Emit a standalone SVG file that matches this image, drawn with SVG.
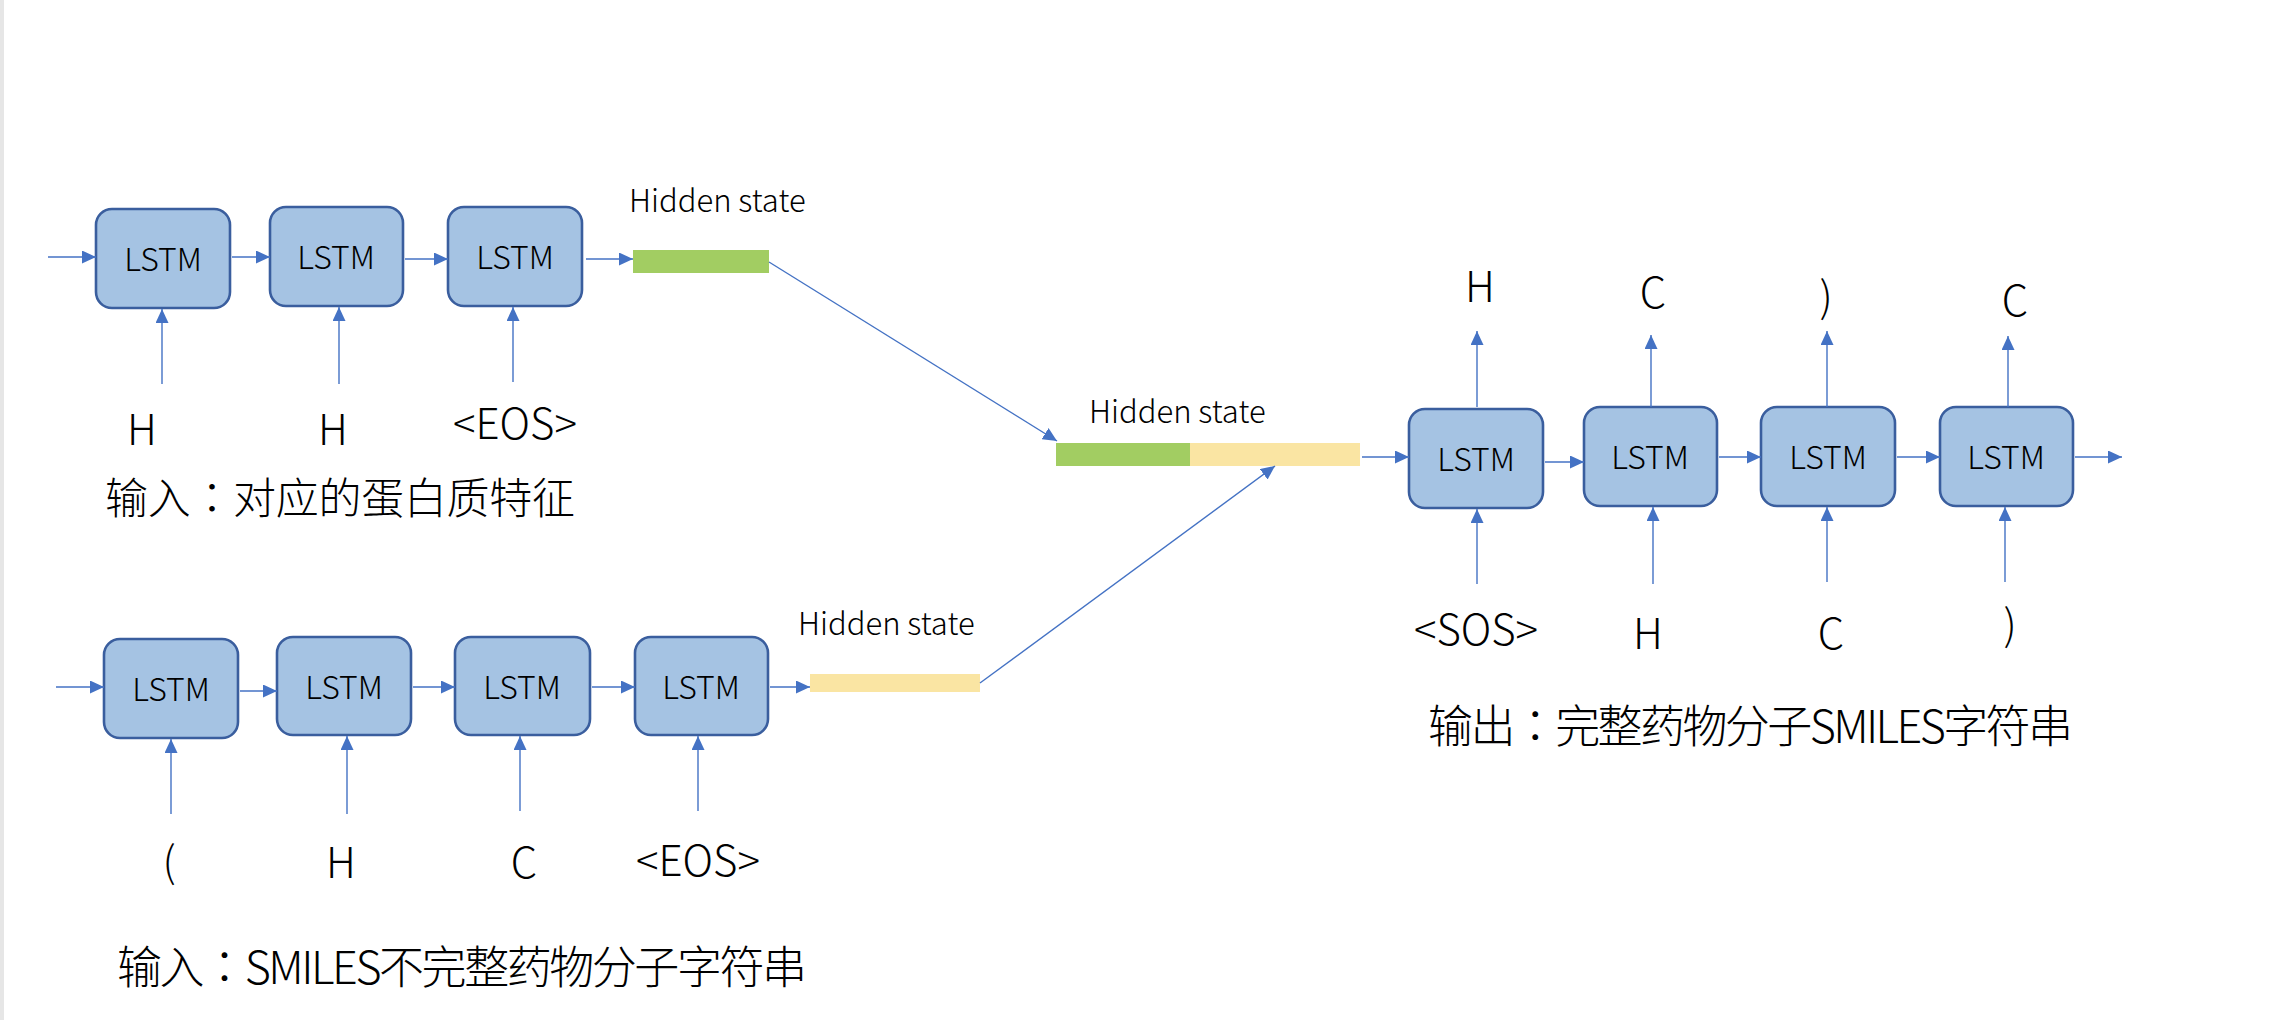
<svg xmlns="http://www.w3.org/2000/svg" width="2286" height="1020" viewBox="0 0 2286 1020">
<defs>
<marker id="ah" markerUnits="userSpaceOnUse" markerWidth="15" markerHeight="13" refX="14" refY="6.5" orient="auto" viewBox="0 0 15 13">
<path d="M0,0 L14,6.5 L0,13 z" fill="#4472c4"/>
</marker>
<style>
.box{fill:#a5c3e3;stroke:#3a5e9e;stroke-width:2.6}
.lbl{font-family:"Noto Sans CJK SC","Liberation Sans",sans-serif;font-weight:300;fill:#000;text-anchor:middle}
.lstm{font-size:32px}
.tok{font-size:42px}
.hs{font-family:"Noto Sans CJK SC","Liberation Sans",sans-serif;font-weight:300;font-size:31px;fill:#000}
.cap{font-family:"Noto Sans CJK SC","Liberation Sans",sans-serif;font-weight:300;fill:#000}
.colon{font-family:"Noto Sans CJK TC","Noto Sans CJK SC",sans-serif}
.ln{stroke:#4472c4;stroke-width:1.4;fill:none;marker-end:url(#ah)}
</style>
</defs>
<rect x="0" y="0" width="2286" height="1020" fill="#ffffff"/>
<rect x="0" y="0" width="4" height="1020" fill="#e6e6e6"/>

<!-- encoder 1 (protein) -->
<g id="e1n1"><rect class="box" x="96" y="209" width="134" height="99" rx="16"/><text class="lbl lstm" x="163" y="271">LSTM</text></g>
<g id="e1n2"><rect class="box" x="270" y="207" width="133" height="99" rx="16"/><text class="lbl lstm" x="336" y="269">LSTM</text></g>
<g id="e1n3"><rect class="box" x="448" y="207" width="134" height="99" rx="16"/><text class="lbl lstm" x="515" y="269">LSTM</text></g>
<g id="e1h"><rect x="633" y="250" width="136" height="23" fill="#a2cd62"/><text class="hs" x="629" y="212">Hidden state</text></g>
<g id="e1t1"><text class="lbl tok" x="142" y="445">H</text></g>
<g id="e1t2"><text class="lbl tok" x="333" y="445">H</text></g>
<g id="e1t3"><text class="lbl tok" x="515" y="439">&lt;EOS&gt;</text></g>
<g id="cap1"><text class="cap" x="105" y="514" font-size="43" textLength="470" lengthAdjust="spacing">输入<tspan class="colon">：</tspan>对应的蛋白质特征</text></g>

<!-- encoder 2 (SMILES) -->
<g id="e2n1"><rect class="box" x="104" y="639" width="134" height="99" rx="16"/><text class="lbl lstm" x="171" y="701">LSTM</text></g>
<g id="e2n2"><rect class="box" x="277" y="637" width="134" height="98" rx="16"/><text class="lbl lstm" x="344" y="699">LSTM</text></g>
<g id="e2n3"><rect class="box" x="455" y="637" width="135" height="98" rx="16"/><text class="lbl lstm" x="522" y="699">LSTM</text></g>
<g id="e2n4"><rect class="box" x="635" y="637" width="133" height="98" rx="16"/><text class="lbl lstm" x="701" y="699">LSTM</text></g>
<g id="e2h"><rect x="810" y="674" width="170" height="18" fill="#fae5a3"/><text class="hs" x="798" y="635">Hidden state</text></g>
<g id="e2t1"><text class="lbl tok" x="169" y="877">(</text></g>
<g id="e2t2"><text class="lbl tok" x="341" y="878">H</text></g>
<g id="e2t3"><text class="lbl tok" x="524" y="878">C</text></g>
<g id="e2t4"><text class="lbl tok" x="698" y="876">&lt;EOS&gt;</text></g>
<g id="cap2"><text class="cap" x="117" y="984" font-size="45" textLength="690" lengthAdjust="spacing">输入<tspan class="colon">：</tspan>SMILES不完整药物分子字符串</text></g>

<!-- combined hidden state -->
<g id="hc"><rect x="1056" y="443" width="134" height="23" fill="#a2cd62"/><rect x="1190" y="443" width="170" height="23" fill="#fae5a3"/><text class="hs" x="1089" y="423">Hidden state</text></g>

<!-- decoder -->
<g id="d1"><rect class="box" x="1409" y="409" width="134" height="99" rx="16"/><text class="lbl lstm" x="1476" y="471">LSTM</text></g>
<g id="d2"><rect class="box" x="1584" y="407" width="133" height="99" rx="16"/><text class="lbl lstm" x="1650" y="469">LSTM</text></g>
<g id="d3"><rect class="box" x="1761" y="407" width="134" height="99" rx="16"/><text class="lbl lstm" x="1828" y="469">LSTM</text></g>
<g id="d4"><rect class="box" x="1940" y="407" width="133" height="99" rx="16"/><text class="lbl lstm" x="2006" y="469">LSTM</text></g>
<g id="do1"><text class="lbl tok" x="1480" y="302">H</text></g>
<g id="do2"><text class="lbl tok" x="1653" y="308">C</text></g>
<g id="do3"><text class="lbl tok" x="1826" y="312">)</text></g>
<g id="do4"><text class="lbl tok" x="2015" y="316">C</text></g>
<g id="di1"><text class="lbl tok" x="1476" y="645">&lt;SOS&gt;</text></g>
<g id="di2"><text class="lbl tok" x="1648" y="649">H</text></g>
<g id="di3"><text class="lbl tok" x="1831" y="649">C</text></g>
<g id="di4"><text class="lbl tok" x="2010" y="640">)</text></g>
<g id="cap3"><text class="cap" x="1428" y="743" font-size="45" textLength="645" lengthAdjust="spacing">输出<tspan class="colon">：</tspan>完整药物分子SMILES字符串</text></g>

<g id="connectors">
<!-- encoder 1 -->
<line class="ln" x1="48" y1="257" x2="96" y2="257"/>
<line class="ln" x1="232" y1="257" x2="270" y2="257"/>
<line class="ln" x1="405" y1="259" x2="448" y2="259"/>
<line class="ln" x1="586" y1="259" x2="633" y2="259"/>
<line class="ln" x1="162" y1="384" x2="162" y2="309"/>
<line class="ln" x1="339" y1="384" x2="339" y2="307"/>
<line class="ln" x1="513" y1="382" x2="513" y2="307"/>
<!-- encoder 2 -->
<line class="ln" x1="56" y1="687" x2="104" y2="687"/>
<line class="ln" x1="240" y1="691" x2="277" y2="691"/>
<line class="ln" x1="413" y1="687" x2="455" y2="687"/>
<line class="ln" x1="592" y1="687" x2="635" y2="687"/>
<line class="ln" x1="770" y1="687" x2="810" y2="687"/>
<line class="ln" x1="171" y1="814" x2="171" y2="739"/>
<line class="ln" x1="347" y1="814" x2="347" y2="736"/>
<line class="ln" x1="520" y1="811" x2="520" y2="736"/>
<line class="ln" x1="698" y1="811" x2="698" y2="736"/>
<!-- merge -->
<line class="ln" x1="769" y1="262" x2="1057" y2="441"/>
<line class="ln" x1="980" y1="683" x2="1275" y2="466"/>
<line class="ln" x1="1362" y1="457" x2="1409" y2="457"/>
<!-- decoder -->
<line class="ln" x1="1545" y1="462" x2="1584" y2="462"/>
<line class="ln" x1="1719" y1="457" x2="1761" y2="457"/>
<line class="ln" x1="1897" y1="457" x2="1940" y2="457"/>
<line class="ln" x1="2075" y1="457" x2="2122" y2="457"/>
<line class="ln" x1="1477" y1="407" x2="1477" y2="331"/>
<line class="ln" x1="1651" y1="407" x2="1651" y2="335"/>
<line class="ln" x1="1827" y1="407" x2="1827" y2="331"/>
<line class="ln" x1="2008" y1="407" x2="2008" y2="336"/>
<line class="ln" x1="1477" y1="584" x2="1477" y2="509"/>
<line class="ln" x1="1653" y1="584" x2="1653" y2="507"/>
<line class="ln" x1="1827" y1="582" x2="1827" y2="507"/>
<line class="ln" x1="2005" y1="582" x2="2005" y2="507"/>
</g>
</svg>
